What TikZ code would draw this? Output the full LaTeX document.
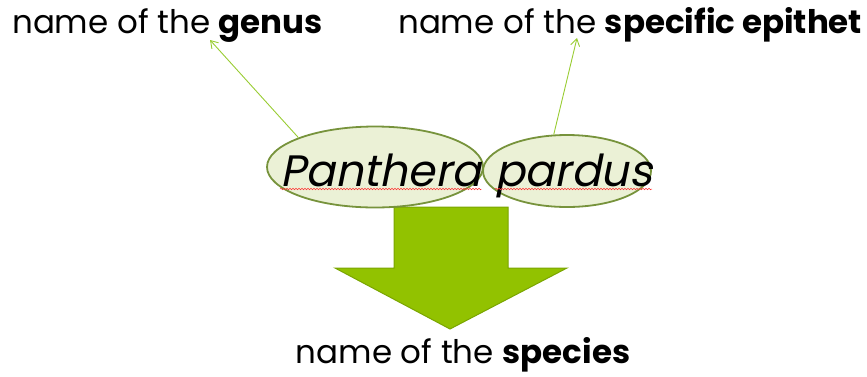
\documentclass[tikz,border=0pt]{standalone}
\usepackage{fontspec}
\setmainfont{Poppins}[AutoFakeSlant=0.2]
\usetikzlibrary{shapes.geometric, arrows.meta, decorations.pathmorphing}

\definecolor{ovalfill}{RGB}{235,241,214}
\definecolor{ovalline}{RGB}{119,147,60}
\definecolor{bigarrow}{RGB}{146,194,0}
\definecolor{bigarrowline}{RGB}{122,165,0}
\definecolor{pointgreen}{RGB}{153,204,51}

\begin{document}
\begin{tikzpicture}[x=1pt, y=-1pt,
  label text/.style={font=\fontsize{32.5}{36}\selectfont, inner sep=0pt},
  name text/.style={font=\fontsize{44}{48}\selectfont\itshape, inner sep=0pt},
  name oval/.style={ellipse, draw=ovalline, fill=ovalfill, line width=1.8pt, inner sep=0pt},
  pointer/.style={-{Straight Barb[length=7pt, width=9pt]}, draw=pointgreen, line width=0.9pt},
  wavy/.style={red!80!white, line width=0.5pt, decorate, decoration={snake, amplitude=0.8pt, segment length=3pt}}]
  \useasboundingbox (0,0) rectangle (867,376);
  % big arrow down to the species name
  \draw[fill=bigarrow, draw=bigarrowline, line width=1pt]
    (394,207) -- (508,207) -- (508,268) -- (567,268) -- (450,329) -- (335,268) -- (394,268) -- cycle;
  % the two halves of the binomial
  \node[name oval, minimum width=216, minimum height=81] (genus oval) at (375,167) {};
  \node[name oval, minimum width=168, minimum height=72] (epithet oval) at (567,171) {};
  \node[name text, anchor=base west] (panthera) at (280,186) {Panthera};
  \node[name text, anchor=base west] (pardus) at (495,186) {pardus};
  \draw[wavy] ([yshift=-3pt]panthera.base west) -- ([yshift=-3pt]panthera.base east);
  \draw[wavy] ([yshift=-3pt]pardus.base west) -- ([yshift=-3pt]pardus.base east);
  % labels
  \node[label text, anchor=base west] (genus label) at (12,33) {name of the \textbf{genus}};
  \node[label text, anchor=base west] (epithet label) at (398,33) {name of the \textbf{specific epithet}};
  \node[label text, anchor=base] (species label) at (463,363) {name of the \textbf{species}};
  \coordinate (genus tip) at (210,40);
  \coordinate (epithet tip) at (577,38);
  \draw[pointer] (genus oval.159) -- (genus tip);
  \draw[pointer] (epithet oval.110) -- (epithet tip);
\end{tikzpicture}
\end{document}
